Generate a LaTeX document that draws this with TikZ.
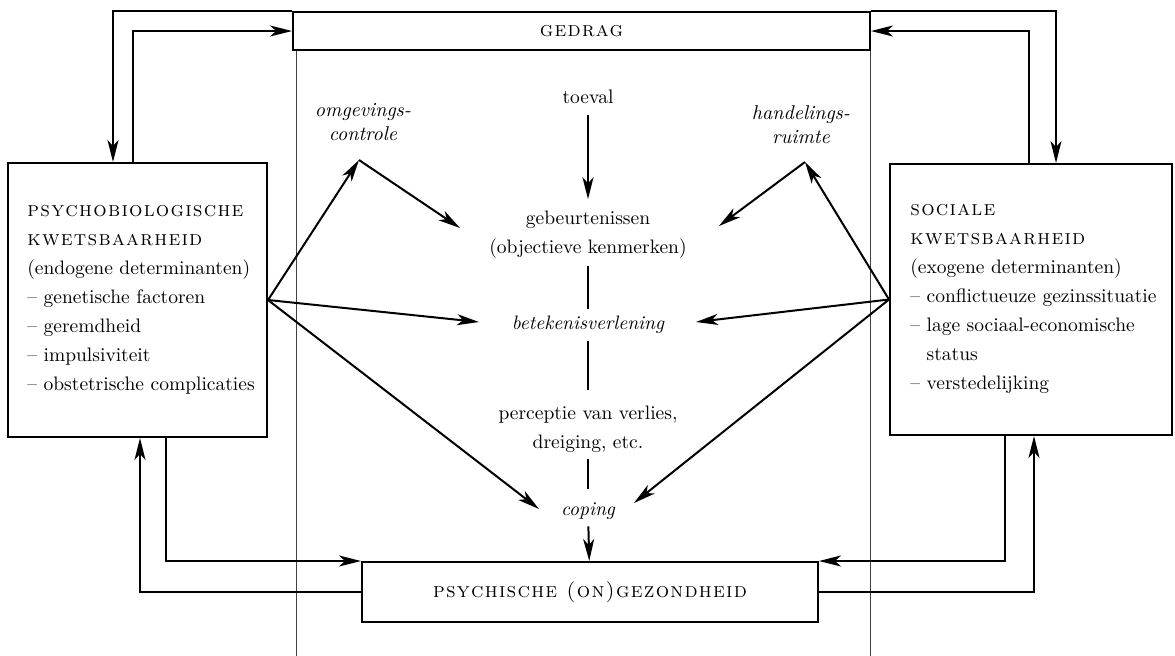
\documentclass[tikz,border=0pt]{standalone}
\usepackage{fontspec}
\usetikzlibrary{positioning, arrows.meta}
\newfontfamily\capsfont[Extension=.otf, LetterSpace=6, Scale=1.08]{lmromancaps10-regular}
\tikzset{
bigbox/.style={draw, line width=1pt, inner sep=0pt},
boxtext/.style={align=left, inner sep=0pt, anchor=west},
midtext/.style={align=center},
arr/.style={-{Stealth[length=11pt, width=5.5pt, inset=3pt]}, line width=1pt},
link/.style={line width=1pt},
rule/.style={line width=0.5pt, black!75},
}

\begin{document}
\begin{tikzpicture}[x=0.5pt, y=-0.5pt, font=\fontsize{9.75}{14.5}\selectfont]
    \useasboundingbox (0,0) rectangle (1175,655);

    %boxes
    \node[bigbox, minimum width=288.5pt, minimum height=19pt] (gedrag) at (581.5,31) {\capsfont gedrag};
    \node[bigbox, minimum width=129.5pt, minimum height=137pt] (psy) at (137.5,300) {};
    \node[bigbox, minimum width=141pt, minimum height=135.5pt] (soc) at (1031,299.5) {};
    \node[bigbox, minimum width=228pt, minimum height=30pt, fill=white] (gezond) at (590,592) {\capsfont psychische (on)gezondheid};

    %box texts
    \node[boxtext] (psytext) at (27,300) {{\capsfont psychobiologische}\\
        {\capsfont kwetsbaarheid}\\
        (endogene determinanten)\\
        -- genetische factoren\\
        -- geremdheid\\
        -- impulsiviteit\\
        -- obstetrische complicaties};
    \node[boxtext] (soctext) at (910,299) {{\capsfont sociale}\\
        {\capsfont kwetsbaarheid}\\
        (exogene determinanten)\\
        -- conflictueuze gezinssituatie\\
        -- lage sociaal-economische\\
        \phantom{-- }status\\
        -- verstedelijking};

    %middle column
    \node[midtext] (toeval) at (588,97) {toeval};
    \node[midtext] (gebeur) at (588,235) {gebeurtenissen\\(objectieve kenmerken)};
    \node[midtext] (beteken) at (588,325) {\itshape betekenisverlening};
    \node[midtext] (percep) at (588,429) {perceptie van verlies,\\dreiging, etc.};
    \node[midtext] (coping) at (588,511) {\itshape coping};
    \node[midtext, font=\itshape] (omg) at (363,122) {omgevings-\\controle};
    \node[midtext, font=\itshape] (handel) at (801,125) {handelings-\\ruimte};

    %turning points and arrow ends
    \coordinate (omgtip) at (359,160);
    \coordinate (handtip) at (805,162);
    \coordinate (gebL) at (460,228);
    \coordinate (gebR) at (719,226);
    \coordinate (betL) at (479,322);
    \coordinate (betR) at (696,322);
    \coordinate (copL) at (539,509);
    \coordinate (copR) at (634,503);

    %thin rules
    \draw[rule] ([xshift=2pt]gedrag.south west) -- ++(0,605);
    \draw[rule] ([xshift=-0.25pt]gedrag.south east) -- ++(0,605);

    %loops round the boxes
    \draw[arr] (gedrag.north west) -| ([xshift=-12.25pt]psy.north);
    \draw[arr] ([xshift=-2.25pt]psy.north) |- (gedrag.west);
    \draw[arr] (gedrag.north east) -| ([xshift=12.5pt]soc.north);
    \draw[arr] ([xshift=-1pt]soc.north) |- (gedrag.east);
    \draw[arr] ([xshift=14.25pt]psy.south) |- (gezond.north west);
    \draw[arr] (gezond.west) -| ([xshift=1.25pt]psy.south);
    \draw[arr] ([xshift=-13pt]soc.south) |- (gezond.north east);
    \draw[arr] (gezond.east) -| ([xshift=1.5pt]soc.south);

    %fans
    \draw[arr] (psy.east) -- (omgtip);
    \draw[arr] (omgtip) -- (gebL);
    \draw[arr] (psy.east) -- (betL);
    \draw[arr] (psy.east) -- (copL);
    \draw[arr] (soc.west) -- (handtip);
    \draw[arr] (handtip) -- (gebR);
    \draw[arr] (soc.west) -- (betR);
    \draw[arr] (soc.west) -- (copR);

    %chain
    \draw[arr, shorten <=2pt, shorten >=2.5pt] (toeval) -- (gebeur);
    \draw[link] (gebeur) -- (beteken);
    \draw[link, shorten >=4.5pt] (beteken) -- (percep);
    \draw[link, shorten >=3.5pt] (percep) -- (coping);
    \draw[arr] (coping) -- (gezond);

\end{tikzpicture}
\end{document}
